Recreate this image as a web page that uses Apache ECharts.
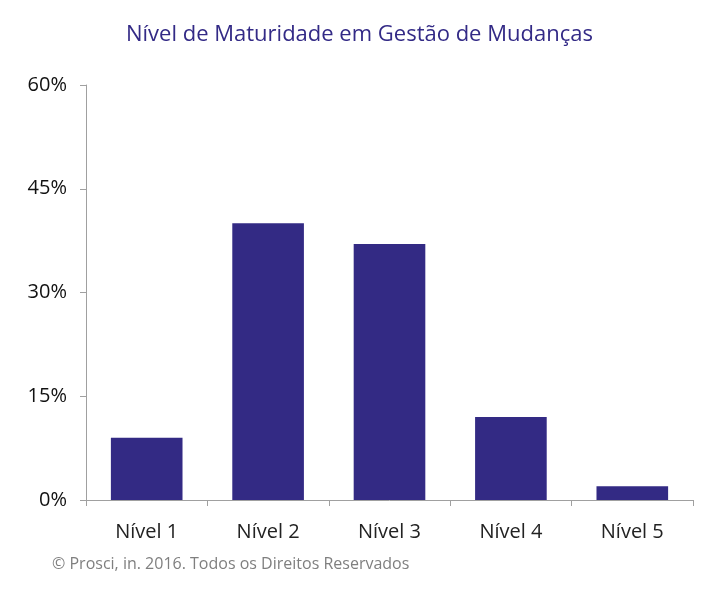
<!DOCTYPE html>
<html><head><meta charset="utf-8">
<script src="https://cdn.jsdelivr.net/npm/echarts@6/dist/echarts.min.js"></script>
<style>html,body{margin:0;padding:0;background:#fff}#c{width:724px;height:595px}</style>
</head><body><div id="c"></div>
<script>
const categories = ['Nível 1', 'Nível 2', 'Nível 3', 'Nível 4', 'Nível 5'];
const values = [9, 40, 37, 12, 2];
const yTicks = [0, 15, 30, 45, 60];
const titleText = 'Nível de Maturidade em Gestão de Mudanças';
const footerText = '© Prosci, in. 2016. Todos os Direitos Reservados';

const chart = echarts.init(document.getElementById('c'), null, {renderer: 'canvas'});
chart.setOption({
  animation: false,
  title: {
    text: titleText, left: 121, top: 19,
    textStyle: {fontFamily: 'Open Sans', fontWeight: 'normal', fontSize: 22, color: '#332a86'}
  },
  graphic: [{
    type: 'text', left: 52, top: 556,
    style: {text: footerText, font: '16px "Open Sans"', fill: '#7f7f7f'}
  }],
  grid: {left: 86, right: 31, top: 85, bottom: 95, containLabel: false},
  xAxis: {
    type: 'category', data: categories,
    axisLine: {lineStyle: {color: '#a0a0a0', width: 1}},
    axisTick: {show: true, length: 6, alignWithLabel: false, lineStyle: {color: '#a0a0a0'}},
    axisLabel: {fontFamily: 'Open Sans', fontSize: 20, color: '#222', margin: 22}
  },
  yAxis: {
    type: 'value', min: yTicks[0], max: yTicks[yTicks.length - 1], interval: 15,
    axisLine: {show: true, lineStyle: {color: '#a0a0a0', width: 1}},
    axisTick: {show: true, length: 6, lineStyle: {color: '#a0a0a0'}},
    splitLine: {show: false},
    axisLabel: {fontFamily: 'Open Sans', fontSize: 20, color: '#111', margin: 19, formatter: '{value}%'}
  },
  series: [{
    type: 'bar', data: values, barWidth: '59%',
    itemStyle: {color: '#332a84'}
  }]
});
</script></body></html>
